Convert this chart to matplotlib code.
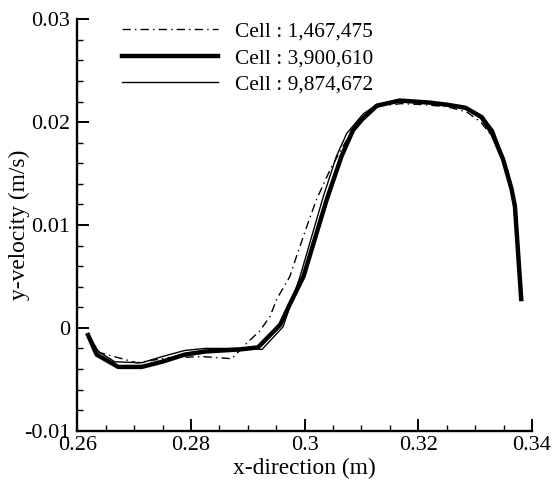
import matplotlib
matplotlib.use("Agg")
import matplotlib.pyplot as plt
from matplotlib.ticker import MultipleLocator, FixedLocator

plt.rcParams['font.family'] = ['Liberation Serif', 'DejaVu Serif']

labels = ["Cell : 1,467,475", "Cell : 3,900,610", "Cell : 9,874,672"]

# Cell : 1,467,475 (dash-dot)
x1 = [0.2620, 0.2639, 0.2672, 0.2705, 0.2760, 0.2822, 0.2872, 0.2898, 0.2921,
      0.2939, 0.2951, 0.2974, 0.2986, 0.3006, 0.3021, 0.3045, 0.3065, 0.3090,
      0.3115, 0.3135, 0.3170, 0.3210, 0.3250, 0.3285, 0.3310, 0.3320, 0.3335,
      0.3355, 0.3367, 0.3373, 0.3381]
y1 = [-0.0007, -0.0024, -0.0029, -0.0034, -0.0029, -0.0028, -0.0030, -0.0015, -0.0003,
      0.0011, 0.0028, 0.0050, 0.0070, 0.0102, 0.0125, 0.0154, 0.0174, 0.0198,
      0.0212, 0.0216, 0.0218, 0.0217, 0.0215, 0.0210, 0.0200, 0.0193, 0.0182,
      0.0158, 0.0131, 0.0092, 0.0029]

# Cell : 3,900,610 (thick)
x2 = [0.2619, 0.2634, 0.2672, 0.2713, 0.2749, 0.2789, 0.2825, 0.2886, 0.2918,
      0.2957, 0.2974, 0.2998, 0.3039, 0.3065, 0.3085, 0.3100, 0.3127, 0.3167,
      0.3220, 0.3250, 0.3283, 0.3311, 0.3330, 0.3349, 0.3364, 0.3370, 0.3381]
y2 = [-0.0007, -0.0026, -0.0038, -0.0038, -0.0033, -0.0026, -0.0023, -0.0021, -0.0019,
      0.0003, 0.0023, 0.0050, 0.0125, 0.0167, 0.0192, 0.0202, 0.0216, 0.0221,
      0.0219, 0.0217, 0.0214, 0.0205, 0.0189, 0.0164, 0.0135, 0.0118, 0.0028]

# Cell : 9,874,672 (thin)
x3 = [0.2620, 0.2637, 0.2666, 0.2713, 0.2749, 0.2789, 0.2825, 0.2893, 0.2925,
      0.2962, 0.2992, 0.3033, 0.3056, 0.3074, 0.3103, 0.3127, 0.3167, 0.3220,
      0.3250, 0.3283, 0.3313, 0.3332, 0.3350, 0.3365, 0.3371, 0.3381]
y3 = [-0.0007, -0.0023, -0.0033, -0.0034, -0.0028, -0.0022, -0.0020, -0.0020, -0.0021,
      0.0001, 0.0050, 0.0128, 0.0167, 0.0189, 0.0208, 0.0217, 0.0220, 0.0219,
      0.0217, 0.0214, 0.0206, 0.0192, 0.0165, 0.0135, 0.0118, 0.0028]

xticks = [0.26, 0.28, 0.30, 0.32, 0.34]
xticklabels = ['0.26', '0.28', '0.3', '0.32', '0.34']
yticks = [-0.01, 0.0, 0.01, 0.02, 0.03]
yticklabels = ['-0.01', '0', '0.01', '0.02', '0.03']

fig = plt.figure(figsize=(5.54, 4.86), dpi=100)
ax = fig.add_axes([0.1395, 0.1138, 0.8208, 0.8465])

ax.plot(x1, y1, color='black', lw=1.0, linestyle=(0, (6, 3, 1, 3)), label=labels[0])
ax.plot(x2, y2, color='black', lw=3.2, solid_joinstyle='round', label=labels[1])
ax.plot(x3, y3, color='black', lw=1.0, label=labels[2])

ax.set_xlim(0.26, 0.34)
ax.set_ylim(-0.01, 0.03)
ax.xaxis.set_major_locator(FixedLocator(xticks))
ax.xaxis.set_minor_locator(MultipleLocator(0.005))
ax.yaxis.set_major_locator(FixedLocator(yticks))
ax.yaxis.set_minor_locator(MultipleLocator(0.002))
ax.set_xticklabels(xticklabels)
ax.set_yticklabels(yticklabels)

for s in ['top', 'right']:
    ax.spines[s].set_visible(False)
for s in ['left', 'bottom']:
    ax.spines[s].set_linewidth(1.7)

ax.tick_params(which='major', direction='in', length=8.6, width=1.4, labelsize=16)
ax.tick_params(which='minor', direction='in', length=4.3, width=1.0)
ax.tick_params(axis='x', which='major', pad=4)
ax.tick_params(axis='y', which='major', pad=5)

ax.set_xlabel('x-direction (m)', fontsize=16.8, labelpad=2)
ax.set_ylabel('y-velocity (m/s)', fontsize=16.8)
ax.yaxis.set_label_coords(-0.105, 0.5)

leg = ax.legend(loc='upper left', bbox_to_anchor=(0.098, 0.995), frameon=False,
                fontsize=15.4, handlelength=4.5, handletextpad=0.8,
                labelspacing=0.32, borderpad=0.0, borderaxespad=0.0)

fig.savefig('out.png', dpi=100)
